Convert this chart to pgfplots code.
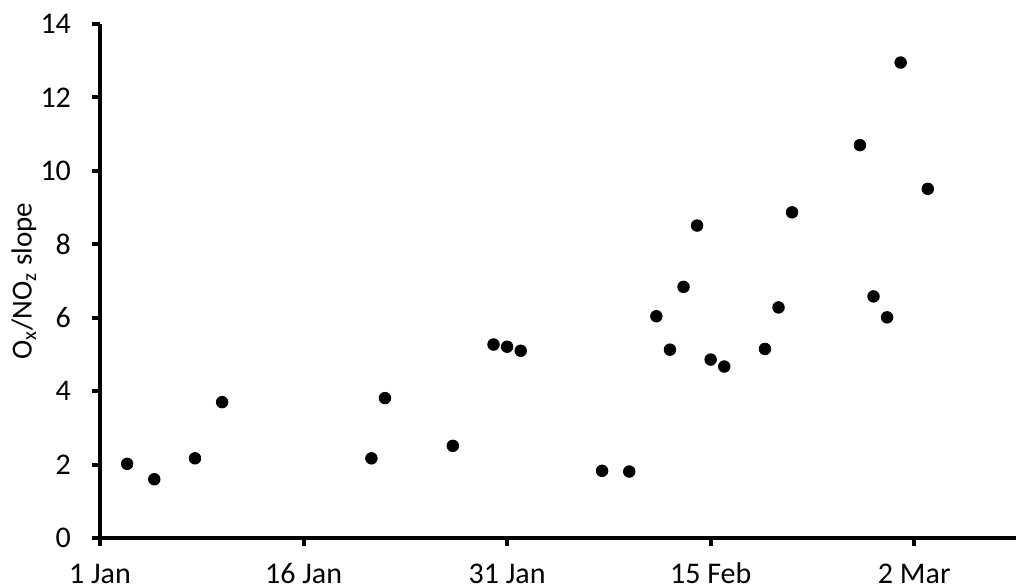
\documentclass[border=0pt]{standalone}
\usepackage{pgfplots}
\pgfplotsset{compat=1.18}
\usepackage{fontspec}
\setmainfont{Carlito}

\begin{document}
\begin{tikzpicture}
% Ox/NOz slope by day (days counted from 1 Jan = 0)
\begin{axis}[
  at={(0,0)}, anchor=origin,
  scale only axis,
  width=458pt, height=257pt,
  xmin=0, xmax=67.5,
  ymin=0, ymax=14,
  axis lines=left,
  axis line style={line width=2.4pt, -},
  xtick={0,15,30,45,60},
  xticklabels={1 Jan,16 Jan,31 Jan,15 Feb,2 Mar},
  ytick={0,2,...,14},
  tick align=outside,
  major tick length=4pt,
  tick style={line width=2pt, black},
  ticklabel style={font=\fontsize{15}{18}\selectfont},
  /pgf/number format/assume math mode=true,
  xticklabel style={anchor=north, text height=10pt, text depth=0pt, yshift=-5pt},
  yticklabel style={anchor=east, xshift=-7pt},
  ylabel={O\textsubscript{x}/NO\textsubscript{z} slope},
  ylabel style={font=\fontsize{14.5}{17}\selectfont, at={(rel axis cs:0,0.5)}, yshift=38pt, anchor=center},
  clip=false,
]
\addplot[only marks, mark=*, mark size=2.9pt, black] coordinates {
  (2,2.02) (4,1.60) (7,2.17) (9,3.70)
  (20,2.17) (21,3.81) (26,2.51)
  (29,5.27) (30,5.21) (31,5.10)
  (37,1.83) (39,1.81)
  (41,6.04) (42,5.13) (43,6.84) (44,8.51) (45,4.86) (46,4.67)
  (49,5.15) (50,6.28) (51,8.87)
  (56,10.70) (57,6.58) (58,6.01) (59,12.95) (61,9.51)
};
\end{axis}
\pgfresetboundingbox
\path[use as bounding box] (-50pt,-25pt) rectangle (458pt,269pt);
\end{tikzpicture}
\end{document}
